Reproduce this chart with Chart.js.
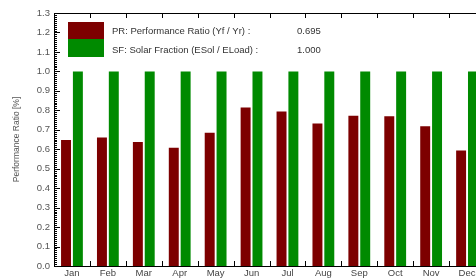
<!DOCTYPE html>
<html lang="en">
<head>
    <meta charset="UTF-8">
    <title>Performance Ratio</title>
    <script src="https://cdn.jsdelivr.net/npm/chart.js"></script>
    <style>
        html, body {
            margin: 0;
            padding: 0;
            background: #fff;
            overflow: hidden;
        }
        #wrap {
            width: 490px;
            height: 280px;
        }
    </style>
</head>
<body>
    <div id="wrap"><canvas id="prChart" width="490" height="280"></canvas></div>

    <script>
        const months = ['Jan', 'Feb', 'Mar', 'Apr', 'May', 'Jun', 'Jul', 'Aug', 'Sep', 'Oct', 'Nov', 'Dec'];
        const perfRatio = [0.648, 0.660, 0.637, 0.607, 0.685, 0.815, 0.794, 0.732, 0.772, 0.770, 0.718, 0.594];
        const solarFraction = [1.0, 1.0, 1.0, 1.0, 1.0, 1.0, 1.0, 1.0, 1.0, 1.0, 1.0, 1.0];
        const legendLabels = ['PR: Performance Ratio (Yf / Yr) :', 'SF: Solar Fraction (ESol / ELoad) :'];
        const legendValues = ['0.695', '1.000'];

        const RED = '#7d0000';
        const GREEN = '#008a00';
        const FONT = '"Liberation Sans", Arial, sans-serif';

        // frame, inside ticks and the two-colour legend box
        const framePlugin = {
            id: 'frame',
            afterDraw(chart) {
                const ctx = chart.ctx;
                const a = chart.chartArea;
                const y = chart.scales.y;
                ctx.save();
                ctx.strokeStyle = '#000';
                ctx.lineWidth = 1;
                ctx.strokeRect(a.left + 0.5, a.top + 0.5, a.right - a.left, a.bottom - a.top);

                // y ticks, minor every 0.01
                for (let i = 0; i <= 130; i++) {
                    const py = Math.round(y.getPixelForValue(i / 100)) + 0.5;
                    const len = i % 10 === 0 ? 6 : 3;
                    ctx.beginPath();
                    ctx.moveTo(a.left, py);
                    ctx.lineTo(a.left + len, py);
                    ctx.moveTo(a.right, py);
                    ctx.lineTo(a.right - len, py);
                    ctx.stroke();
                }
                // x ticks at category boundaries
                const n = months.length;
                const step = (a.right - a.left) / n;
                for (let i = 1; i < n; i++) {
                    const px = Math.round(a.left + step * i) + 0.5;
                    ctx.beginPath();
                    ctx.moveTo(px, a.bottom);
                    ctx.lineTo(px, a.bottom - 5);
                    ctx.moveTo(px, a.top);
                    ctx.lineTo(px, a.top + 5);
                    ctx.stroke();
                }

                // legend
                const lx = 68, ly = 22, lw = 36, lh = 17;
                ctx.fillStyle = RED;
                ctx.fillRect(lx, ly, lw, lh);
                ctx.fillStyle = GREEN;
                ctx.fillRect(lx, ly + lh, lw, lh + 1);
                ctx.fillStyle = '#333';
                ctx.font = '9.5px ' + FONT;
                ctx.textBaseline = 'middle';
                ctx.textAlign = 'left';
                legendLabels.forEach((t, i) => {
                    ctx.fillText(t, 112, ly + lh / 2 + i * (lh + 2) + 1);
                    ctx.fillText(legendValues[i], 297, ly + lh / 2 + i * (lh + 2) + 1);
                });
                ctx.restore();
            }
        };

        new Chart(document.getElementById('prChart'), {
            type: 'bar',
            data: {
                labels: months,
                datasets: [{
                    label: 'PR',
                    data: perfRatio,
                    backgroundColor: RED,
                    barPercentage: 0.84,
                    categoryPercentage: 0.66
                }, {
                    label: 'SF',
                    data: solarFraction,
                    backgroundColor: GREEN,
                    barPercentage: 0.84,
                    categoryPercentage: 0.66
                }]
            },
            options: {
                responsive: false,
                animation: false,
                layout: { padding: { top: 13, right: 5, left: 0, bottom: 0 } },
                plugins: {
                    legend: { display: false },
                    tooltip: { enabled: false }
                },
                scales: {
                    x: {
                        grid: { display: false, drawTicks: false },
                        border: { display: false },
                        ticks: {
                            color: '#444',
                            font: { size: 9.5, family: FONT },
                            padding: 2,
                            maxRotation: 0
                        },
                        afterFit(s) { s.height = 14; }
                    },
                    y: {
                        min: 0,
                        max: 1.3,
                        grid: { display: false, drawTicks: false },
                        border: { display: false },
                        ticks: {
                            stepSize: 0.1,
                            color: '#555',
                            font: { size: 9.5, family: FONT },
                            padding: 4,
                            callback: v => v.toFixed(1)
                        },
                        title: {
                            display: true,
                            text: 'Performance Ratio [%]',
                            color: '#555',
                            font: { size: 8.5, family: FONT },
                            padding: { top: 12, bottom: 0 }
                        },
                        afterFit(s) { s.width = 54; }
                    }
                }
            },
            plugins: [framePlugin]
        });
    </script>
</body>
</html>
